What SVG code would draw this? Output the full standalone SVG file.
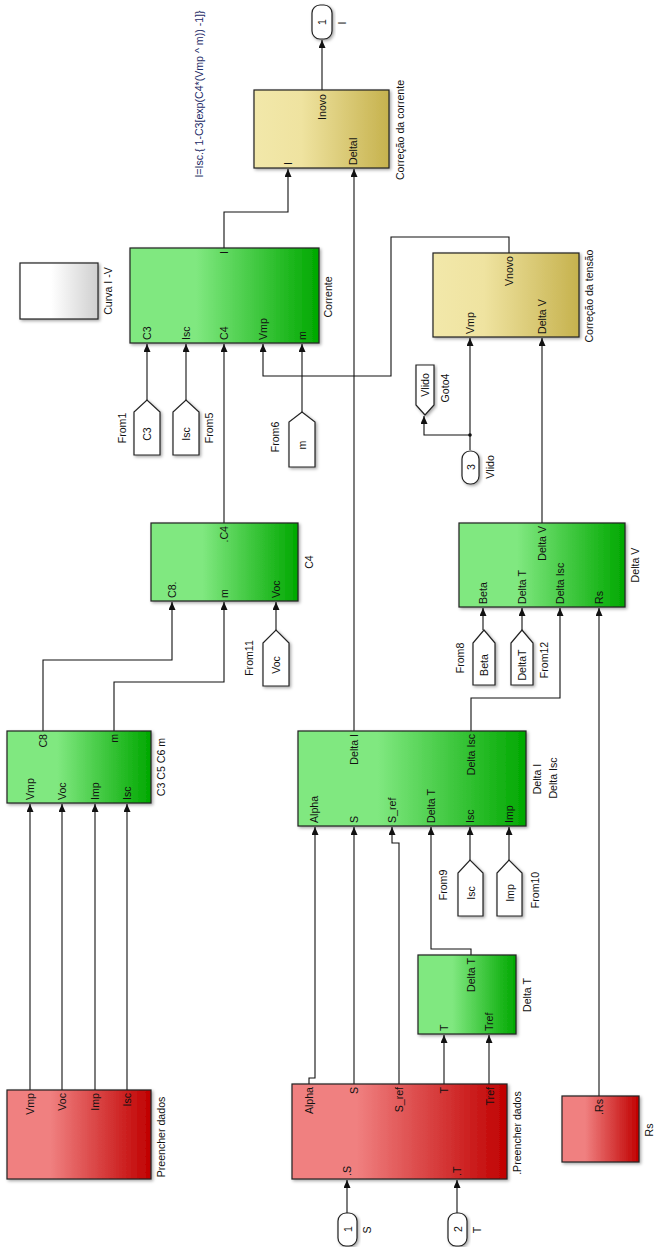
<svg xmlns="http://www.w3.org/2000/svg" width="654" height="1247" viewBox="0 0 654 1247">
  <style>
    text { font-family: "Liberation Sans", Arial, sans-serif; font-size: 10.6px; fill: #111; dominant-baseline: central; }
    .blk { stroke: #222; stroke-width: 1.2; filter: url(#shadow); }
    .green { fill: url(#gGreen); }
    .red { fill: url(#gRed); }
    .tan { fill: url(#gTan); }
    .gray { fill: url(#gGray); }
    .tag { fill: #fff; stroke: #222; stroke-width: 1.2; filter: url(#shadow); }
    .port { fill: #fff; stroke: #222; stroke-width: 1.2; filter: url(#shadow); }
    .wire { fill: none; stroke: #111; stroke-width: 1.1; }
    .arr { marker-end: url(#ah); }
    .s { text-anchor: start; }
    .e { text-anchor: end; }
    .m { text-anchor: middle; }
    .formula { fill: #1c2a66; font-size: 10.6px; }
  </style>
  <defs>
    <linearGradient id="gGreen" x1="0" y1="0" x2="1" y2="0">
      <stop offset="0" stop-color="#80e880"/>
      <stop offset="0.35" stop-color="#80e880"/>
      <stop offset="1" stop-color="#00a800"/>
    </linearGradient>
    <linearGradient id="gRed" x1="0" y1="0" x2="1" y2="0">
      <stop offset="0" stop-color="#f08080"/>
      <stop offset="0.3" stop-color="#f08080"/>
      <stop offset="1" stop-color="#c00000"/>
    </linearGradient>
    <linearGradient id="gTan" x1="0" y1="0" x2="1" y2="0">
      <stop offset="0" stop-color="#f2e8aa"/>
      <stop offset="0.35" stop-color="#efe3a0"/>
      <stop offset="1" stop-color="#c6b24e"/>
    </linearGradient>
    <linearGradient id="gGray" x1="0" y1="0" x2="1" y2="0">
      <stop offset="0" stop-color="#ffffff"/>
      <stop offset="0.4" stop-color="#ffffff"/>
      <stop offset="1" stop-color="#cfcfcf"/>
    </linearGradient>
    <filter id="shadow" x="-20%" y="-20%" width="140%" height="140%">
      <feDropShadow dx="1.5" dy="1.5" stdDeviation="1.8" flood-color="#000" flood-opacity="0.35"/>
    </filter>
    <marker id="ah" markerUnits="userSpaceOnUse" markerWidth="9" markerHeight="8" refX="8" refY="3.5" orient="auto">
      <path d="M0,0 L8,3.5 L0,7 z" fill="#111"/>
    </marker>
  </defs>

  <!-- equation annotation -->
  <text class="formula m" x="199" y="94" transform="rotate(-90 199 94)">I=Isc.{ 1-C3[exp(C4*(Vmp ^ m)) -1]}</text>

  <!-- connectors -->
  <g id="connectors">
    <path class="wire arr" d="M322 90 V40"/>
    <path class="wire arr" d="M224 248 V212 H288 V169"/>
    <path class="wire arr" d="M354 731 V169"/>
    <path class="wire arr" d="M147 400 V344"/>
    <path class="wire arr" d="M186 400 V344"/>
    <path class="wire arr" d="M224 523 V344"/>
    <path class="wire arr" d="M509 253 V237 H391 V376 H263 V344"/>
    <path class="wire arr" d="M302 412 V344"/>
    <path class="wire arr" d="M470 450 V338"/>
    <path class="wire arr" d="M470 435 H424 V416"/>
    <circle cx="470" cy="435" r="1.8" fill="#111"/>
    <path class="wire arr" d="M542 523 V338"/>
    <path class="wire arr" d="M43 731 V660 H172 V602"/>
    <path class="wire arr" d="M114 731 V682 H224 V602"/>
    <path class="wire arr" d="M276 630 V602"/>
    <path class="wire arr" d="M483 630 V608"/>
    <path class="wire arr" d="M522 630 V608"/>
    <path class="wire arr" d="M471 731 V698 H560 V608"/>
    <path class="wire arr" d="M599 1096 V608"/>
    <path class="wire arr" d="M30 1090 V804"/>
    <path class="wire arr" d="M62 1090 V804"/>
    <path class="wire arr" d="M95 1090 V804"/>
    <path class="wire arr" d="M127 1090 V804"/>
    <path class="wire arr" d="M309 1084 V1078 H315 V827"/>
    <path class="wire arr" d="M354 1084 V827"/>
    <path class="wire arr" d="M399 1084 V843 H392 V827"/>
    <path class="wire arr" d="M471 955 V949 H431 V827"/>
    <path class="wire arr" d="M470 860 V827"/>
    <path class="wire arr" d="M509 860 V827"/>
    <path class="wire arr" d="M444 1084 V1035"/>
    <path class="wire arr" d="M489 1084 V1035"/>
    <path class="wire arr" d="M347 1213 V1180"/>
    <path class="wire arr" d="M457 1213 V1180"/>
  </g>

  <!-- output port I -->
  <g id="out1">
    <rect class="port" x="312" y="5" width="20" height="34" rx="8"/>
    <text class="m" x="322" y="22" transform="rotate(-90 322 22)">1</text>
    <text class="m" x="342" y="23" transform="rotate(-90 342 23)">I</text>
  </g>

  <!-- current correction -->
  <g id="correcao-corrente">
    <rect class="blk tan" x="254" y="90" width="135" height="78"/>
    <text class="e" x="322" y="94" transform="rotate(-90 322 94)">Inovo</text>
    <text class="s" x="288" y="165" transform="rotate(-90 288 165)">I</text>
    <text class="s" x="353" y="165" transform="rotate(-90 353 165)">DeltaI</text>
    <text class="m" x="400" y="130" transform="rotate(-90 400 130)">Correção da corrente</text>
  </g>

  <!-- I-V curve scope -->
  <g id="curva-iv">
    <rect class="blk gray" x="20" y="263" width="78" height="56"/>
    <text class="m" x="108" y="291" transform="rotate(-90 108 291)">Curva I -V</text>
  </g>

  <!-- current -->
  <g id="corrente">
    <rect class="blk green" x="130" y="248" width="189" height="95"/>
    <text class="e" x="224" y="251" transform="rotate(-90 224 251)">I</text>
    <text class="s" x="147" y="340" transform="rotate(-90 147 340)">C3</text>
    <text class="s" x="186" y="340" transform="rotate(-90 186 340)">Isc</text>
    <text class="s" x="224" y="340" transform="rotate(-90 224 340)">C4</text>
    <text class="s" x="263" y="340" transform="rotate(-90 263 340)">Vmp</text>
    <text class="s" x="302" y="340" transform="rotate(-90 302 340)">m</text>
    <text class="m" x="328" y="297" transform="rotate(-90 328 297)">Corrente</text>
  </g>

  <!-- voltage correction -->
  <g id="correcao-tensao">
    <rect class="blk tan" x="433" y="253" width="146" height="84"/>
    <text class="e" x="509" y="256" transform="rotate(-90 509 256)">Vnovo</text>
    <text class="s" x="470" y="334" transform="rotate(-90 470 334)">Vmp</text>
    <text class="s" x="542" y="334" transform="rotate(-90 542 334)">Delta V</text>
    <text class="m" x="589" y="296" transform="rotate(-90 589 296)">Correção da tensão</text>
  </g>

  <!-- tags -->
  <g id="from1">
    <polygon class="tag" points="134,455 134,412 147,400 160,412 160,455"/>
    <text class="m" x="147" y="434" transform="rotate(-90 147 434)">C3</text>
    <text class="m" x="122" y="428" transform="rotate(-90 122 428)">From1</text>
  </g>
  <g id="from5">
    <polygon class="tag" points="173,455 173,412 186,400 199,412 199,455"/>
    <text class="m" x="186" y="434" transform="rotate(-90 186 434)">Isc</text>
    <text class="m" x="209" y="428" transform="rotate(-90 209 428)">From5</text>
  </g>
  <g id="from6">
    <polygon class="tag" points="289,467 289,422 302,412 315,422 315,467"/>
    <text class="m" x="302" y="445" transform="rotate(-90 302 445)">m</text>
    <text class="m" x="275" y="437" transform="rotate(-90 275 437)">From6</text>
  </g>
  <g id="goto4">
    <polygon class="tag" points="416,365 434,365 434,405 425,415 416,405"/>
    <text class="m" x="425" y="385" transform="rotate(-90 425 385)">Vlido</text>
    <text class="m" x="445" y="388" transform="rotate(-90 445 388)">Goto4</text>
  </g>
  <g id="in3">
    <rect class="port" x="462" y="451" width="17" height="33" rx="8"/>
    <text class="m" x="470.5" y="467" transform="rotate(-90 470.5 467)">3</text>
    <text class="m" x="490" y="467" transform="rotate(-90 490 467)">Vlido</text>
  </g>
  <g id="from11">
    <polygon class="tag" points="263,686 263,643 276,630 289,643 289,686"/>
    <text class="m" x="276" y="665" transform="rotate(-90 276 665)">Voc</text>
    <text class="m" x="249" y="658" transform="rotate(-90 249 658)">From11</text>
  </g>
  <g id="from8">
    <polygon class="tag" points="473,685 473,643 484,630 495,643 495,685"/>
    <text class="m" x="484" y="665" transform="rotate(-90 484 665)">Beta</text>
    <text class="m" x="460" y="658" transform="rotate(-90 460 658)">From8</text>
  </g>
  <g id="from12">
    <polygon class="tag" points="511,685 511,643 522,630 533,643 533,685"/>
    <text class="m" x="522" y="665" transform="rotate(-90 522 665)">DeltaT</text>
    <text class="m" x="544" y="660" transform="rotate(-90 544 660)">From12</text>
  </g>
  <g id="from9">
    <polygon class="tag" points="458,916 458,873 470,860 483,873 483,916"/>
    <text class="m" x="470.5" y="893" transform="rotate(-90 470.5 893)">Isc</text>
    <text class="m" x="443" y="885" transform="rotate(-90 443 885)">From9</text>
  </g>
  <g id="from10">
    <polygon class="tag" points="497,916 497,873 509,860 522,873 522,916"/>
    <text class="m" x="509.5" y="893" transform="rotate(-90 509.5 893)">Imp</text>
    <text class="m" x="535" y="890" transform="rotate(-90 535 890)">From10</text>
  </g>

  <!-- C4 -->
  <g id="c4">
    <rect class="blk green" x="151" y="523" width="147" height="78"/>
    <text class="e" x="224" y="526" transform="rotate(-90 224 526)">.C4</text>
    <text class="s" x="172" y="598" transform="rotate(-90 172 598)">C8.</text>
    <text class="s" x="224" y="598" transform="rotate(-90 224 598)">m</text>
    <text class="s" x="276" y="598" transform="rotate(-90 276 598)">Voc</text>
    <text class="m" x="309" y="562" transform="rotate(-90 309 562)">C4</text>
  </g>

  <!-- Delta V -->
  <g id="delta-v">
    <rect class="blk green" x="459" y="523" width="166" height="84"/>
    <text class="e" x="542" y="526" transform="rotate(-90 542 526)">Delta V</text>
    <text class="s" x="483" y="604" transform="rotate(-90 483 604)">Beta</text>
    <text class="s" x="522" y="604" transform="rotate(-90 522 604)">Delta T</text>
    <text class="s" x="560" y="604" transform="rotate(-90 560 604)">Delta Isc</text>
    <text class="s" x="599" y="604" transform="rotate(-90 599 604)">Rs</text>
    <text class="m" x="635" y="565" transform="rotate(-90 635 565)">Delta V</text>
  </g>

  <!-- C3 C5 C6 m -->
  <g id="c3c5c6m">
    <rect class="blk green" x="7" y="731" width="144" height="72"/>
    <text class="e" x="43" y="734" transform="rotate(-90 43 734)">C8</text>
    <text class="e" x="114" y="734" transform="rotate(-90 114 734)">m</text>
    <text class="s" x="30" y="800" transform="rotate(-90 30 800)">Vmp</text>
    <text class="s" x="62" y="800" transform="rotate(-90 62 800)">Voc</text>
    <text class="s" x="95" y="800" transform="rotate(-90 95 800)">Imp</text>
    <text class="s" x="127" y="800" transform="rotate(-90 127 800)">Isc</text>
    <text class="m" x="161" y="767" transform="rotate(-90 161 767)">C3 C5 C6 m</text>
  </g>

  <!-- Delta I / Delta Isc -->
  <g id="delta-i">
    <rect class="blk green" x="298" y="731" width="228" height="95"/>
    <text class="e" x="354" y="734" transform="rotate(-90 354 734)">Delta I</text>
    <text class="e" x="471" y="734" transform="rotate(-90 471 734)">Delta Isc</text>
    <text class="s" x="314" y="823" transform="rotate(-90 314 823)">Alpha</text>
    <text class="s" x="354" y="823" transform="rotate(-90 354 823)">S</text>
    <text class="s" x="392" y="823" transform="rotate(-90 392 823)">S_ref</text>
    <text class="s" x="431" y="823" transform="rotate(-90 431 823)">Delta T</text>
    <text class="s" x="470" y="823" transform="rotate(-90 470 823)">Isc</text>
    <text class="s" x="509" y="823" transform="rotate(-90 509 823)">Imp</text>
    <text class="m" x="537" y="779" transform="rotate(-90 537 779)">Delta I</text>
    <text class="m" x="553" y="778" transform="rotate(-90 553 778)">Delta Isc</text>
  </g>

  <!-- Delta T -->
  <g id="delta-t">
    <rect class="blk green" x="418" y="955" width="98" height="79"/>
    <text class="e" x="471" y="958" transform="rotate(-90 471 958)">Delta T</text>
    <text class="s" x="444" y="1031" transform="rotate(-90 444 1031)">T</text>
    <text class="s" x="489" y="1031" transform="rotate(-90 489 1031)">Tref</text>
    <text class="m" x="527" y="995" transform="rotate(-90 527 995)">Delta T</text>
  </g>

  <!-- data blocks -->
  <g id="preencher-dados">
    <rect class="blk red" x="7" y="1090" width="144" height="89"/>
    <text class="e" x="30" y="1093" transform="rotate(-90 30 1093)">Vmp</text>
    <text class="e" x="62" y="1093" transform="rotate(-90 62 1093)">Voc</text>
    <text class="e" x="95" y="1093" transform="rotate(-90 95 1093)">Imp</text>
    <text class="e" x="127" y="1093" transform="rotate(-90 127 1093)">Isc</text>
    <text class="m" x="161" y="1137" transform="rotate(-90 161 1137)">Preencher dados</text>
  </g>

  <g id="preencher-dados-2">
    <rect class="blk red" x="292" y="1084" width="215" height="95"/>
    <text class="e" x="309" y="1087" transform="rotate(-90 309 1087)">Alpha</text>
    <text class="e" x="354" y="1087" transform="rotate(-90 354 1087)">S</text>
    <text class="e" x="399" y="1087" transform="rotate(-90 399 1087)">S_ref</text>
    <text class="e" x="444" y="1087" transform="rotate(-90 444 1087)">T</text>
    <text class="e" x="490" y="1087" transform="rotate(-90 490 1087)">Tref</text>
    <text class="s" x="347" y="1176" transform="rotate(-90 347 1176)">.S</text>
    <text class="s" x="457" y="1176" transform="rotate(-90 457 1176)">.T</text>
    <text class="m" x="517" y="1133" transform="rotate(-90 517 1133)">.Preencher dados</text>
  </g>

  <g id="rs">
    <rect class="blk red" x="562" y="1096" width="77" height="66"/>
    <text class="e" x="599" y="1099" transform="rotate(-90 599 1099)">.Rs</text>
    <text class="m" x="649" y="1130" transform="rotate(-90 649 1130)">Rs</text>
  </g>

  <!-- input ports -->
  <g id="in1">
    <rect class="port" x="338" y="1213" width="19" height="33" rx="8"/>
    <text class="m" x="347.5" y="1229" transform="rotate(-90 347.5 1229)">1</text>
    <text class="m" x="367" y="1230" transform="rotate(-90 367 1230)">S</text>
  </g>
  <g id="in2">
    <rect class="port" x="448" y="1213" width="19" height="33" rx="8"/>
    <text class="m" x="457.5" y="1229" transform="rotate(-90 457.5 1229)">2</text>
    <text class="m" x="477" y="1230" transform="rotate(-90 477 1230)">T</text>
  </g>
</svg>
